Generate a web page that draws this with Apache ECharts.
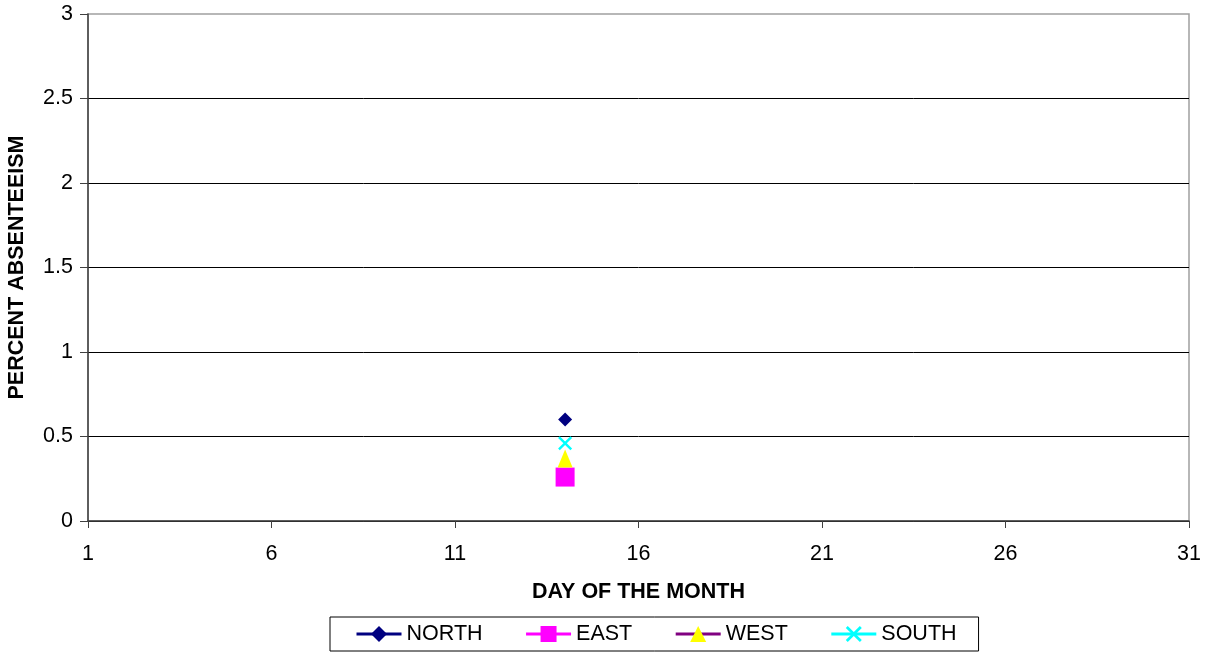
<!DOCTYPE html>
<html>
<head>
<meta charset="utf-8">
<script src="https://cdn.jsdelivr.net/npm/echarts@6/dist/echarts.min.js"></script>
<style>
html,body{margin:0;padding:0;background:#fff;}
#chart{width:1212px;height:652px;}
</style>
</head>
<body>
<div id="chart"></div>
<script>
// Categories: day of the month
var days = ['1','2','3','4','5','6','7','8','9','10','11','12','13','14','15','16','17','18','19','20','21','22','23','24','25','26','27','28','29','30','31'];
// Observations (day, percent absenteeism)
var northData = [['14', 0.6]];
var eastData  = [['14', 0.26]];
var westData  = [['14', 0.37]];
var southData = [['14', 0.46]];
var seriesNames = ['NORTH', 'EAST', 'WEST', 'SOUTH'];

var xPath = 'path://M0,1.2 L1.2,0 L5,3.8 L8.8,0 L10,1.2 L6.2,5 L10,8.8 L8.8,10 L5,6.2 L1.2,10 L0,8.8 L3.8,5 Z';

var font = 'Liberation Sans, Arial, sans-serif';
var fs = 21.5;
var chart = echarts.init(document.getElementById('chart'));
chart.setOption({
  animation: false,
  textStyle: { fontFamily: font },
  grid: { left: 88, right: 23, top: 14, bottom: 131, show: true, borderColor: '#a0a0a0', borderWidth: 1.5,
          containLabel: false, outerBoundsMode: 'none' },
  xAxis: {
    type: 'category',
    data: days,
    boundaryGap: false,
    name: 'DAY OF THE MONTH',
    nameLocation: 'middle',
    nameGap: 60,
    nameTextStyle: { fontSize: fs, fontWeight: 'bold', color: '#000', fontFamily: font },
    axisLine: { lineStyle: { color: '#404040', width: 1.5 } },
    axisTick: { interval: 4, length: 7, lineStyle: { color: '#404040' } },
    axisLabel: { interval: 4, fontSize: fs, color: '#000', margin: 22, fontFamily: font },
    splitLine: { show: false }
  },
  yAxis: {
    type: 'value',
    min: 0, max: 3, interval: 0.5,
    name: 'PERCENT ABSENTEEISM',
    nameLocation: 'middle',
    nameGap: 60,
    nameRotate: 90,
    nameTextStyle: { fontSize: fs, fontWeight: 'bold', color: '#000', fontFamily: font },
    axisLine: { show: true, lineStyle: { color: '#404040', width: 1.5 } },
    axisTick: { show: true, length: 8, lineStyle: { color: '#404040' } },
    axisLabel: { fontSize: fs, color: '#000', margin: 15, fontFamily: font },
    splitLine: { show: true, showMaxLine: false, lineStyle: { color: '#000', width: 1 } }
  },
  legend: {
    data: seriesNames,
    left: 330, top: 617,
    padding: [6, 22, 6, 25],
    borderColor: '#000', borderWidth: 1,
    itemWidth: 45, itemHeight: 20, itemGap: 42,
    lineStyle: { width: 3 },
    textStyle: { fontSize: fs, color: '#000', fontFamily: font }
  },
  series: [
    { name: 'NORTH', type: 'line', data: northData, symbol: 'diamond', symbolSize: 14,
      color: '#000080', itemStyle: { color: '#000080' }, lineStyle: { color: '#000080', width: 3 } },
    { name: 'EAST', type: 'line', data: eastData, symbol: 'rect', symbolSize: 19,
      color: '#ff00ff', itemStyle: { color: '#ff00ff' }, lineStyle: { color: '#ff00ff', width: 3 } },
    { name: 'WEST', type: 'line', data: westData, symbol: 'triangle', symbolSize: [15, 18],
      color: '#800080', itemStyle: { color: '#ffff00' }, lineStyle: { color: '#800080', width: 3 } },
    { name: 'SOUTH', type: 'line', data: southData, symbol: xPath, symbolSize: 14,
      color: '#00ffff', itemStyle: { color: '#00ffff' }, lineStyle: { color: '#00ffff', width: 3 } }
  ]
});
</script>
</body>
</html>
